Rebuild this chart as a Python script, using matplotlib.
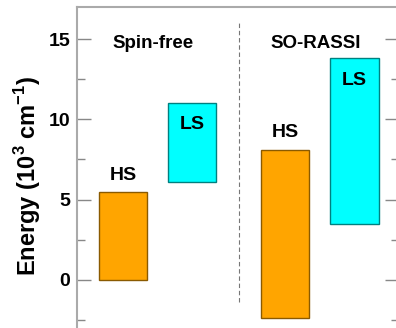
import matplotlib
matplotlib.use("Agg")
import matplotlib.pyplot as plt
import matplotlib.ticker as ticker

plt.rcParams['font.family'] = ['Liberation Sans', 'DejaVu Sans']
plt.rcParams['mathtext.fontset'] = 'custom'
plt.rcParams['mathtext.rm'] = 'Liberation Sans:bold'
plt.rcParams['mathtext.bf'] = 'Liberation Sans:bold'

# energy windows (10^3 cm^-1) for each spin state
labels = ["HS", "LS", "HS", "LS"]
x_pos = [1.43, 3.57, 6.47, 8.62]
e_low = [0.0, 6.1, -2.35, 3.5]
e_high = [5.5, 11.0, 8.1, 13.85]
face_colors = ["#FFA500", "#00FFFF", "#FFA500", "#00FFFF"]
edge_colors = ["#8A5A00", "#008080", "#8A5A00", "#008080"]
label_y = [6.5, 9.7, 9.15, 12.4]
panel_titles = ["Spin-free", "SO-RASSI"]
panel_x = [2.35, 7.4]

fig = plt.figure(figsize=(3.96, 3.28), dpi=100)
ax = fig.add_axes([77 / 396, 0, 322 / 396, 321 / 328])

bar_w = 1.5
for x, lo, hi, fc, ec in zip(x_pos, e_low, e_high, face_colors, edge_colors):
    ax.bar(x, hi - lo, bottom=lo, width=bar_w, color=fc, edgecolor=ec, linewidth=1)

for x, y, lab in zip(x_pos, label_y, labels):
    ax.text(x, y, lab, ha="center", va="center", fontsize=14, fontweight="bold")

for x, t in zip(panel_x, panel_titles):
    ax.text(x, 14.75, t, ha="center", va="center", fontsize=13.5, fontweight="bold")

# separator between the two panels
ax.plot([5.02, 5.02], [-1.35, 16.1], color="#777777", linestyle=(0, (4, 2.5)), linewidth=0.8)

ax.set_xlim(0, 10)
ax.set_ylim(-3, 17)
ax.set_xticks([])
ax.yaxis.set_major_locator(ticker.MultipleLocator(5))
ax.yaxis.set_minor_locator(ticker.MultipleLocator(2.5))
ax.tick_params(axis="y", which="both", direction="in", right=True, color="#888888",
               labelsize=14, width=1, pad=5)
ax.tick_params(axis="y", which="major", length=10)
ax.tick_params(axis="y", which="minor", length=6)
for lab in ax.get_yticklabels():
    lab.set_fontweight("bold")

for side in ["left", "top", "right"]:
    ax.spines[side].set_color("#AAAAAA")
    ax.spines[side].set_linewidth(1.5)
ax.spines["bottom"].set_visible(False)

ax.set_ylabel(r"Energy (10$^{3}$ cm$^{-1}$)", fontsize=17, fontweight="bold")
ax.yaxis.set_label_coords(-0.105, 0.475)

fig.savefig("out.png", dpi=100)
